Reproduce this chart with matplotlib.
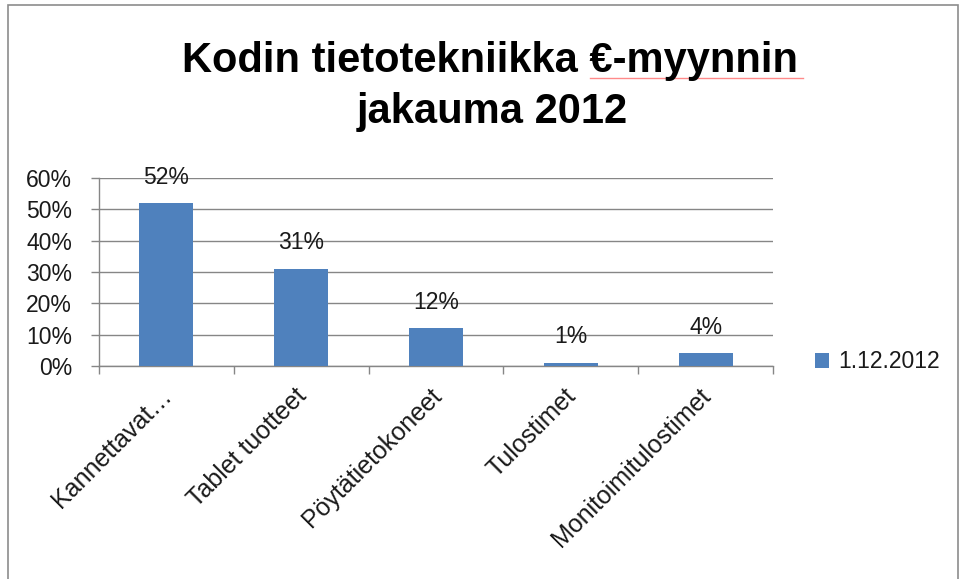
import matplotlib
matplotlib.use("Agg")
import matplotlib.pyplot as plt
import matplotlib.transforms as mtransforms
from matplotlib.patches import Rectangle
from matplotlib.lines import Line2D

categories = ["Kannettavat…", "Tablet tuotteet", "Pöytätietokoneet", "Tulostimet", "Monitoimitulostimet"]
values = [0.52, 0.31, 0.12, 0.01, 0.04]
series_name = "1.12.2012"
yticks = [0, 0.1, 0.2, 0.3, 0.4, 0.5, 0.6]
ytick_labels = ["0%", "10%", "20%", "30%", "40%", "50%", "60%"]

plt.rcParams['font.family'] = ['Liberation Sans', 'DejaVu Sans']
bar_color = "#4F81BD"
grid_color = "#868686"
FS = 16.5

fig = plt.figure(figsize=(9.63, 5.79), dpi=100)
fig.patch.set_facecolor("white")
ax = fig.add_axes([99/963, 1-366/579, (773-99)/963, (366-178)/579])

x = list(range(len(categories)))
bars = ax.bar(x, values, width=0.4, color=bar_color, label=series_name, zorder=3)
for xi, v in zip(x, values):
    ax.annotate(f"{round(v*100)}%", (xi, v), xytext=(0, 14), textcoords="offset points",
                ha="center", va="baseline", fontsize=FS, color="#1a1a1a", zorder=4)

ax.set_xlim(-0.5, len(categories) - 0.5)
ax.set_ylim(0, 0.6)
ax.set_yticks(yticks)
ax.set_yticklabels(ytick_labels, fontsize=FS, color="#1a1a1a")
ax.set_xticks(x)
ax.set_xticklabels([])
# category labels, rotated, anchored just below the axis at each category
lbl_trans = mtransforms.blended_transform_factory(ax.transData, ax.transAxes) + \
    mtransforms.ScaledTranslation(-7/100, -18/100, fig.dpi_scale_trans)
for xi, name in zip(x, categories):
    ax.text(xi, 0, name, transform=lbl_trans, rotation=45, ha="right", va="top",
            rotation_mode="anchor", fontsize=18, color="#1a1a1a", clip_on=False)
ax.set_xticks([i - 0.5 for i in range(len(categories) + 1)], minor=True)
ax.tick_params(axis="x", which="major", length=0)
ax.tick_params(axis="x", which="minor", length=6, color=grid_color, width=1)
ax.tick_params(axis="y", length=6, color=grid_color, width=1, pad=13.5)
ax.yaxis.grid(True, color=grid_color, linewidth=1, zorder=0)
ax.set_axisbelow(True)
for s in ["top", "right"]:
    ax.spines[s].set_visible(False)
for s in ["left", "bottom"]:
    ax.spines[s].set_color(grid_color)
    ax.spines[s].set_linewidth(1)

fig.text(490/963, 1-72/579, "Kodin tietotekniikka €-myynnin", ha="center", va="baseline",
         fontsize=30, fontweight="bold", color="black")
fig.text(492/963, 1-123/579, "jakauma 2012", ha="center", va="baseline",
         fontsize=30, fontweight="bold", color="black")
fig.add_artist(Line2D([590/963, 803/963], [1-78/579, 1-78/579], color="#FF8A8A", linewidth=1))

leg = fig.legend(handles=[bars], labels=[series_name], loc="center left",
                 bbox_to_anchor=(815/963, 1-362/579), frameon=False, fontsize=FS,
                 handlelength=0.61, handleheight=0.61, handletextpad=0.4,
                 borderpad=0, borderaxespad=0)
for t in leg.get_texts():
    t.set_color("#1a1a1a")

fig.add_artist(Rectangle((8/963, -0.05), (958-8)/963, 1.05 - 5/579, transform=fig.transFigure,
                         fill=False, edgecolor="#8C8C8C", linewidth=1.2))

fig.savefig("out.png", dpi=100)
